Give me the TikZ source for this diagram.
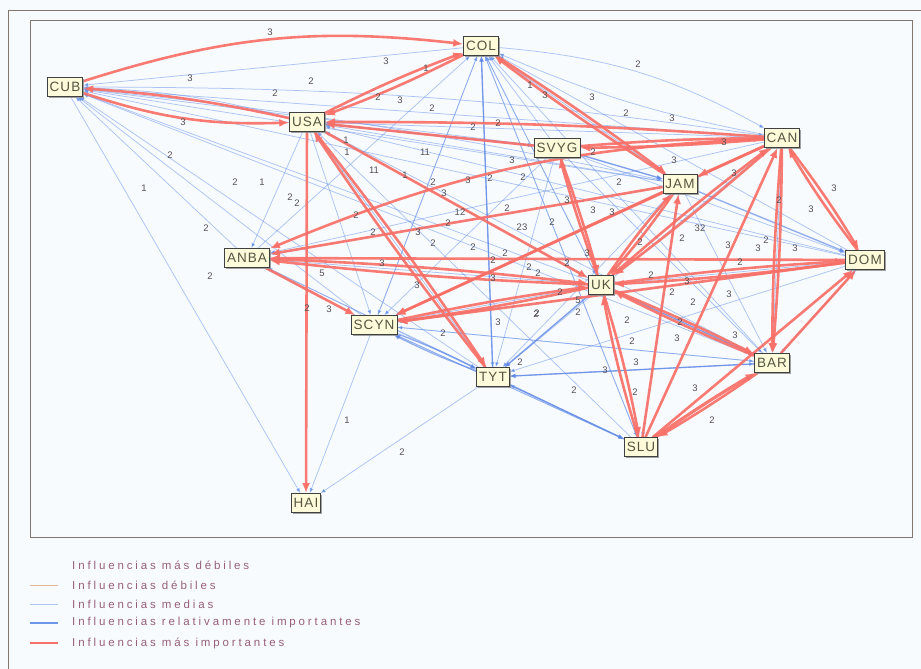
\documentclass[tikz,border=0pt]{standalone}
\usepackage{fontspec}
\setmainfont{Liberation Sans}
\newfontfamily\legfont[LetterSpace=25]{Liberation Sans}
\newfontfamily\nodefont[LetterSpace=8]{Liberation Sans}
\usetikzlibrary{arrows.meta,shadows}
\pgfdeclarelayer{bg}
\pgfdeclarelayer{blue}
\pgfdeclarelayer{red}
\pgfsetlayers{bg,blue,red,main}
\definecolor{rd}{RGB}{248,112,104}
\definecolor{bl}{RGB}{110,150,235}
\definecolor{blb}{RGB}{95,135,230}
\definecolor{weak}{RGB}{228,182,150}
\definecolor{frame}{RGB}{130,118,112}
\definecolor{nfill}{RGB}{253,251,218}
\definecolor{ntext}{RGB}{85,85,65}
\definecolor{numc}{RGB}{85,80,85}
\definecolor{legc}{RGB}{150,95,125}
\definecolor{paper}{RGB}{248,251,253}
\tikzset{
  cty/.style={draw=black!75, fill=nfill, line width=0.7pt, inner xsep=2.5pt, inner ysep=0pt,
    minimum height=19pt, font=\nodefont\fontsize{13.5}{13.5}\selectfont, text=ntext,
    drop shadow={shadow xshift=1.6pt, shadow yshift=-1.6pt, fill=black!45, opacity=0.8}},
  redge/.style={draw=rd, draw opacity=0.92, line width=2.6pt, -{Latex[length=10pt,width=8pt]}},
  bedge/.style={draw=bl, draw opacity=0.55, line width=0.75pt, -{Latex[length=5pt,width=4pt]}},
  bbedge/.style={draw=blb, draw opacity=0.65, line width=1.4pt, -{Latex[length=6pt,width=5pt]}},
  numlab/.style={font=\fontsize{9.5}{9.5}\selectfont, text=numc, inner sep=0pt},
  leglab/.style={font=\legfont\fontsize{11.5}{11.5}\selectfont, text=legc, anchor=west, inner sep=0pt},
}
\begin{document}
\begin{tikzpicture}[x=1pt,y=-1pt]
\useasboundingbox (0,0) rectangle (921,669);
\begin{pgfonlayer}{bg}
\fill[paper] (0,0) rectangle (921,669);
\draw[frame, line width=0.9pt] (8,669) -- (8,10) -- (921,10);
\draw[frame, line width=0.8pt] (30,20) rectangle (912,537);
\end{pgfonlayer}

% nodes
\node[cty] (CUB) at (65,87) {CUB};
\node[cty] (COL) at (481,46) {COL};
\node[cty] (USA) at (307,122) {USA};
\node[cty] (SVYG) at (557,148) {SVYG};
\node[cty] (CAN) at (782,138) {CAN};
\node[cty] (JAM) at (680,184) {JAM};
\node[cty] (ANBA) at (247,258) {ANBA};
\node[cty] (DOM) at (865,260) {DOM};
\node[cty] (UK) at (601,285) {UK};
\node[cty] (SCYN) at (374,325) {SCYN};
\node[cty] (TYT) at (493,377) {TYT};
\node[cty] (BAR) at (772,363) {BAR};
\node[cty] (SLU) at (641,447) {SLU};
\node[cty] (HAI) at (306,503) {HAI};

% blue edges
\begin{pgfonlayer}{blue}
\foreach \a/\b in {COL/CUB,SVYG/CUB,CAN/CUB,JAM/CUB,UK/CUB,SCYN/CUB,TYT/CUB,ANBA/CUB,DOM/CUB,CUB/HAI,BAR/CUB,
  TYT/COL,SCYN/COL,UK/COL,SLU/COL,BAR/COL,JAM/COL,DOM/COL,SVYG/COL,ANBA/COL,
  USA/ANBA,USA/SCYN,UK/USA,JAM/USA,SVYG/USA,DOM/USA,BAR/USA,TYT/USA,SLU/USA,CAN/USA,
  SVYG/JAM,SVYG/DOM,SVYG/TYT,SVYG/BAR,JAM/BAR,JAM/TYT,JAM/SCYN,JAM/SLU,SVYG/SCYN,
  UK/TYT,BAR/TYT,DOM/TYT,CAN/TYT,TYT/SLU,TYT/HAI,ANBA/TYT,
  SCYN/HAI,UK/SCYN,BAR/SCYN,SLU/SCYN,SCYN/ANBA,UK/ANBA,UK/DOM,BAR/DOM,
  SCYN/SLU,TYT/BAR,SCYN/BAR,UK/BAR,CAN/SCYN,SLU/TYT,DOM/SCYN,CAN/ANBA,JAM/ANBA,
  COL/TYT,COL/SCYN,COL/UK,COL/SLU,CAN/BAR,DOM/BAR,SLU/ANBA}
  \draw[bedge] (\a) -- (\b);
\draw[bedge] (USA) to[bend right=6] (CUB);
\draw[bedge] (COL) to[bend left=12] (CAN);
\draw[bedge] (CAN) to[bend left=6] (COL);
\draw[bedge] (CUB) to[bend left=4] (CAN);
\draw[bedge] (CUB) to[bend left=3] (JAM);
\draw[bbedge] (SCYN) to[bend left=3] (TYT);
\draw[bbedge] (TYT) to[bend left=3] (SCYN);
\draw[bbedge] (JAM) -- (DOM);
\draw[bbedge] (SVYG) -- (JAM);
\draw[bbedge] (UK) -- (TYT);
\draw[bbedge] (BAR) -- (TYT);
\draw[bbedge] (TYT) -- (SLU);
\draw[bbedge] (UK) -- (BAR);
\draw[bbedge] (USA) -- (SVYG);
\draw[bbedge] (TYT) -- (COL);
\end{pgfonlayer}

% red edges
\begin{pgfonlayer}{red}
\draw[redge] (CUB) to[bend left=12] (COL);
\draw[redge] (USA) to[bend right=4] (CUB);
\draw[redge] (CUB) to[bend right=10] (USA);
\draw[redge] (USA) to[bend left=3] (COL);
\draw[redge] (COL) to[bend left=3] (USA);
\draw[redge] (CAN) to[bend right=2] (USA);
\draw[redge] (SVYG) -- (USA);
\draw[redge] (CAN) to[bend left=2] (SVYG);
\draw[redge] (SVYG) to[bend left=2] (CAN);
\draw[redge] (COL) to[bend left=2] (JAM);
\draw[redge] (JAM) to[bend left=2] (COL);
\draw[redge] (USA) to[bend left=2] (TYT);
\draw[redge] (TYT) to[bend left=2] (USA);
\draw[redge] (USA) -- (UK);
\draw[redge] (USA) -- (HAI);
\draw[redge] (ANBA) -- (SCYN);
\draw[redge] (CAN) to[bend right=10] (ANBA);
\draw[redge] (JAM) -- (ANBA);
\draw[redge] (UK) to[bend left=2] (ANBA);
\draw[redge] (ANBA) to[bend left=2] (UK);
\draw[redge] (DOM) -- (ANBA);
\draw[redge] (UK) to[bend left=2] (SCYN);
\draw[redge] (SCYN) to[bend left=2] (UK);
\draw[redge] (JAM) -- (SCYN);
\draw[redge] (CAN) -- (SCYN);
\draw[redge] (DOM) -- (SCYN);
\draw[redge] (SVYG) to[bend left=2] (UK);
\draw[redge] (UK) to[bend left=2] (SVYG);
\draw[redge] (UK) to[bend left=3] (SLU);
\draw[redge] (SLU) to[bend left=3] (UK);
\draw[redge, line width=3.2pt] (SLU) to[bend left=2] (BAR);
\draw[redge] (BAR) to[bend left=2] (SLU);
\draw[redge] (SLU) -- (CAN);
\draw[redge] (SLU) -- (JAM);
\draw[redge] (SLU) -- (DOM);
\draw[redge] (CAN) to[bend left=2] (BAR);
\draw[redge] (CAN) to[bend right=2] (BAR);
\draw[redge] (UK) to[bend left=2] (BAR);
\draw[redge] (BAR) to[bend left=2] (UK);
\draw[redge] (DOM) to[bend left=3] (CAN);
\draw[redge] (CAN) to[bend left=3] (DOM);
\draw[redge] (DOM) to[bend left=2] (UK);
\draw[redge] (UK) to[bend left=2] (DOM);
\draw[redge] (BAR) -- (DOM);
\draw[redge] (CAN) to[bend left=2] (UK);
\draw[redge] (UK) to[bend left=2] (CAN);
\draw[redge] (JAM) to[bend left=3] (UK);
\draw[redge] (UK) to[bend left=3] (JAM);
\draw[redge] (CAN) -- (JAM);
\end{pgfonlayer}

% edge weights
\foreach \x/\y/\t [count=\i] in {
270/32/3,386/61/3,311/81/2,190/78/3,275/93/2,426/68/1,378/97/2,400/100/3,183/122/3,432/108/2,
170/155/2,235/182/2,262/182/1,290/197/2,297/203/2,144/188/1,206/228/2,346/140/1,347/152/1,374/170/11,
405/175/1,425/152/11,433/182/2,444/193/3,356/215/2,373/232/2,418/232/3,433/243/2,210/276/2,382/263/3,
473/127/2,498/123/2,638/64/2,530/85/1,545/95/3,592/97/3,626/113/2,672/118/3,724/142/3,512/160/3,
593/152/2,674/160/3,619/182/2,734/173/3,834/188/3,779/200/2,811/209/3,700/228/32,682/238/2,468/180/3,
490/178/2,523/177/2,460/212/12,448/223/2,507/208/2,522/227/23,567/200/3,593/210/3,587/253/3,473/247/2,
493/260/2,505/253/2,529/267/2,538/273/2,493/278/3,567/263/2,560/292/2,417/285/3,537/313/2,728/245/3,
758/248/3,766/240/2,795/248/3,740/262/2,651/275/2,687/281/3,672/292/2,693/302/2,729/294/3,680/322/2,
627/320/2,578/300/5,578/312/2,632/341/2,735/335/3,677/338/3,605/370/3,636/362/3,635/392/2,574/390/2,
695/388/3,712/420/2,322/273/5,307/308/2,329/309/3,443/333/2,498/322/3,536/314/2,347/420/1,402/452/2,
520/362/2,552/222/2,640/242/2,612/212/3}
  \node[numlab] (w\i) at (\x,\y) {\t};

% legend
\draw[draw=weak, line width=0.8pt] (30,585) coordinate (la1) -- (58,585) coordinate (lb1);
\draw[draw=bl!55, line width=0.9pt] (30,604) coordinate (la2) -- (58,604) coordinate (lb2);
\draw[draw=bl, line width=1.5pt] (30,623) coordinate (la3) -- (58,623) coordinate (lb3);
\draw[draw=rd, line width=1.9pt] (30,643) coordinate (la4) -- (58,643) coordinate (lb4);
\node[leglab] (l0) at (72,565) {Influencias más débiles};
\node[leglab] (l1) at (72,585) {Influencias débiles};
\node[leglab] (l2) at (72,604) {Influencias medias};
\node[leglab] (l3) at (72,623) {Influencias relativamente importantes};
\node[leglab] (l4) at (72,643) {Influencias más importantes};
\end{tikzpicture}
\end{document}
